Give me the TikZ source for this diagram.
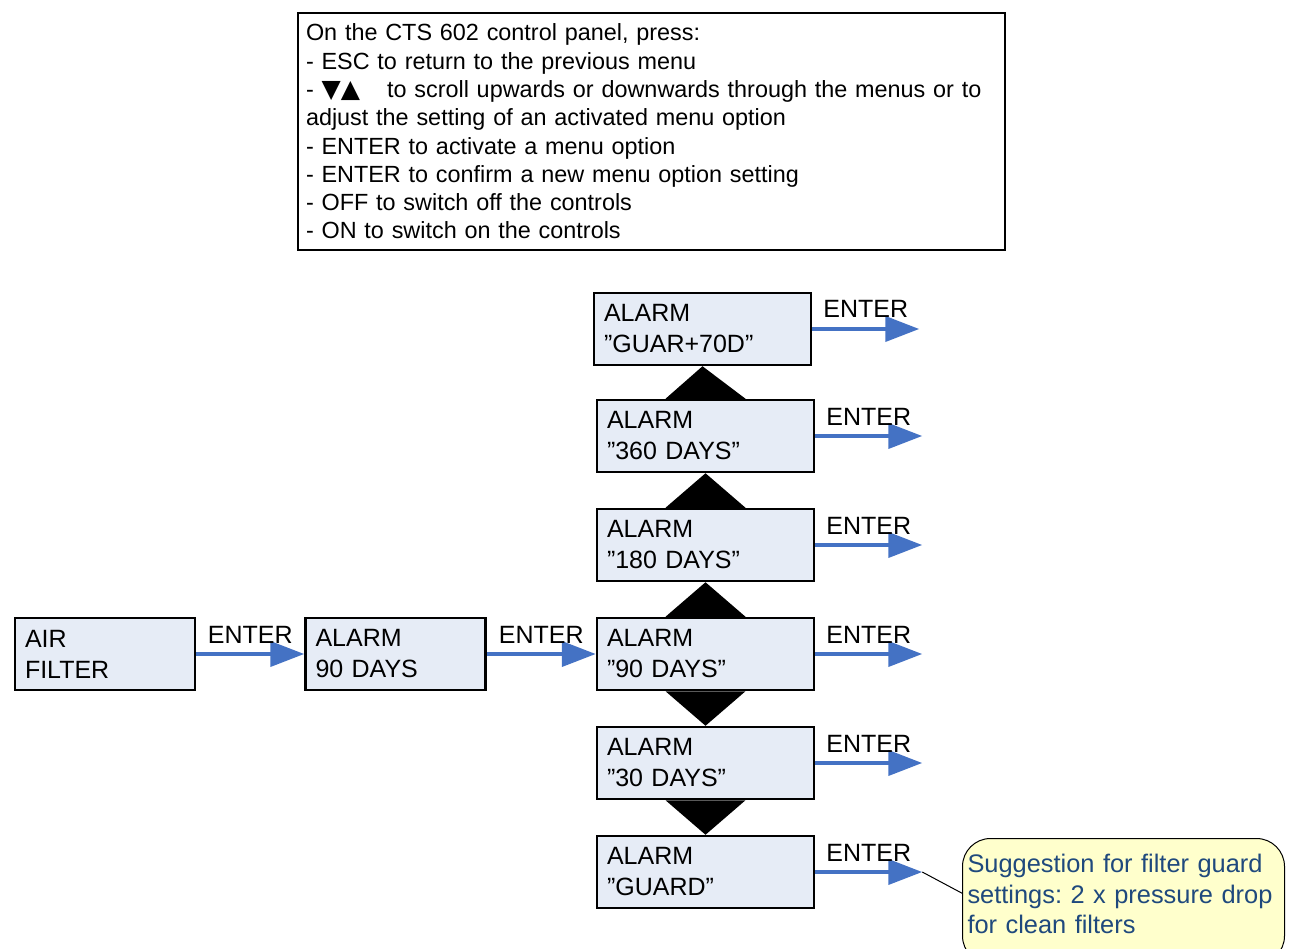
\documentclass[tikz,border=0pt]{standalone}
\usepackage{fontspec}
\setmainfont{Liberation Sans}
\newfontfamily\symfont{DejaVu Sans}
\usetikzlibrary{positioning,arrows.meta}
\frenchspacing
\definecolor{boxfill}{RGB}{230,236,246}
\definecolor{enterblue}{RGB}{68,114,196}
\definecolor{notefill}{RGB}{255,255,204}
\definecolor{notetext}{RGB}{31,73,125}
\tikzset{
  menubox/.style={draw, line width=2.5pt, fill=boxfill, align=left, text width=160pt, inner xsep=10pt, minimum height=72pt, font=\fontsize{25}{31}\selectfont},
  colbox/.style={menubox, text width=197pt},
  enterline/.style={draw=enterblue, line width=4pt, -{Triangle[length=34pt,width=25pt]}},
  enterlabel/.style={midway, above=9pt, inner sep=0pt, font=\fontsize{25}{31}\selectfont},
}
\begin{document}
\begin{tikzpicture}[x=1pt, y=-1pt, node distance=34.5pt]
\useasboundingbox (0,0) rectangle (1290,949);
\clip (0,0) rectangle (1290,949);
\node[draw, line width=2pt, anchor=north west, align=left, text width=691pt, inner xsep=8pt, minimum height=237pt, font=\fontsize{23.4}{28.3}\selectfont] (panel) at (297,12) {On the CTS 602 control panel, press:\\
- ESC to return to the previous menu\\
- {\symfont\fontsize{25}{28}\selectfont ▼▲}\hspace{27pt}to scroll upwards or downwards through the menus or to\\
adjust the setting of an activated menu option\\
- ENTER to activate a menu option\\
- ENTER to confirm a new menu option setting\\
- OFF to switch off the controls\\
- ON to switch on the controls};

\node[menubox] (air) at (105,654) {AIR\\FILTER};
\node[menubox, right=108pt of air] (alarm90) {ALARM\\90 DAYS};
\node[colbox, right=109pt of alarm90] (d90) {ALARM\\”90 DAYS”};
\node[colbox, above=of d90] (d180) {ALARM\\”180 DAYS”};
\node[colbox, above=of d180] (d360) {ALARM\\”360 DAYS”};
\node[colbox, above=of d360, xshift=-3pt, yshift=-2pt] (g70) {ALARM\\”GUAR+70D”};
\node[colbox, below=of d90] (d30) {ALARM\\”30 DAYS”};
\node[colbox, below=of d30] (guard) {ALARM\\”GUARD”};

\draw[enterline] (air.east) -- (alarm90.west) node[enterlabel] {ENTER};
\draw[enterline] (alarm90.east) -- (d90.west) node[enterlabel] {ENTER};
\foreach \n in {g70,d360,d180,d90,d30,guard} {
  \coordinate (\n-out) at ([xshift=107pt]\n.east);
  \draw[enterline] (\n.east) -- (\n-out) node[enterlabel] {ENTER};
}

% scroll marks between the menu options
\foreach \lo/\hi in {d360/g70, d180/d360, d90/d180}
  \fill ([xshift=-40pt]\lo.north) -- (\hi.south) -- ([xshift=40pt]\lo.north) -- cycle;
\foreach \hi/\lo in {d90/d30, d30/guard}
  \fill ([xshift=-40pt]\hi.south) -- (\lo.north) -- ([xshift=40pt]\hi.south) -- cycle;

\node[draw, line width=1pt, fill=notefill, text=notetext, rounded corners=28pt, anchor=north west, text width=312pt, inner xsep=5pt, inner ysep=16pt, align=left, font=\fontsize{25.4}{30.5}\selectfont] (note) at (962,838) {Suggestion for filter guard\\settings: 2 x pressure drop\\for clean filters\rule[-14pt]{0pt}{1pt}};
\draw[line width=1pt] (guard-out) -- ([yshift=8pt]note.west);
\end{tikzpicture}
\end{document}
